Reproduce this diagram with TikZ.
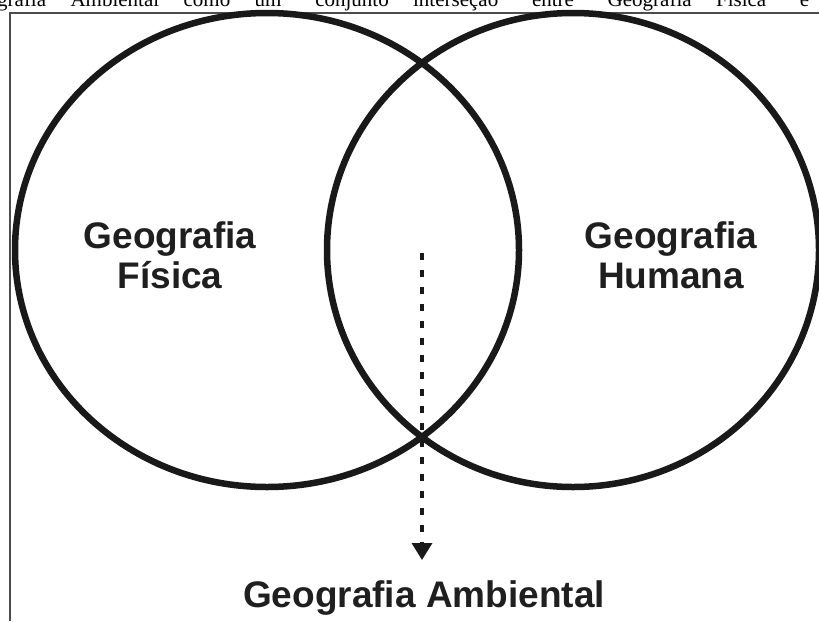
\documentclass[tikz,border=0pt]{standalone}
\usepackage{fontspec}
\setmainfont{Liberation Serif}
\newfontfamily\arialfont{Liberation Sans}
\usetikzlibrary{arrows.meta,shapes.geometric}
\begin{document}
\begin{tikzpicture}[x=1pt,y=1pt,
  ring/.style={draw=black!90, line width=6.5pt, ellipse, inner sep=0pt, outer sep=0pt},
  lbl/.style={font=\arialfont\bfseries\fontsize{37}{40}\selectfont, text=black!88, inner sep=0pt, anchor=base},
  biglbl/.style={font=\arialfont\bfseries\fontsize{37}{40}\selectfont, text=black!88, inner sep=0pt, anchor=base},
  flow/.style={draw=black!90, line width=3.5pt, dash pattern=on 7pt off 10pt, -{Triangle[width=20pt,length=17pt]}}
]
\useasboundingbox (0,0) rectangle (819,-621);
\clip (0,0) rectangle (819,-621);
\fill[white] (0,0) rectangle (819,-621);
% cropped caption line
\node[font=\fontsize{21}{24}\selectfont, anchor=base west, inner sep=0pt] (cap) at (-38,-6)
  {\hbox to 847pt{Geografia\hfill Ambiental\hfill como\hfill um\hfill ``conjunto\hfill interseção''\hfill entre\hfill ``Geografia\hfill Física''\hfill e}};
% frame
\draw[black!70, line width=1.5pt] (10,-621) -- (10,-13) -- (830,-13);
% circles
\node[ring, minimum width=504pt, minimum height=474pt] (fis) at (267,-250) {};
\node[ring, minimum width=492pt, minimum height=474pt] (hum) at (573,-250) {};
% labels
\node[lbl] (fis1) at (170,-248) {Geografia};
\node[lbl] (fis2) at (170,-288) {Física};
\node[lbl] (hum1) at (671,-248) {Geografia};
\node[lbl] (hum2) at (671,-288) {Humana};
\node[biglbl] (amb) at (424,-607) {Geografia Ambiental};
% arrow
\coordinate (start) at (422,-253);
\coordinate (tip) at (422,-560);
\draw[flow] (start) -- (tip);
\end{tikzpicture}
\end{document}
